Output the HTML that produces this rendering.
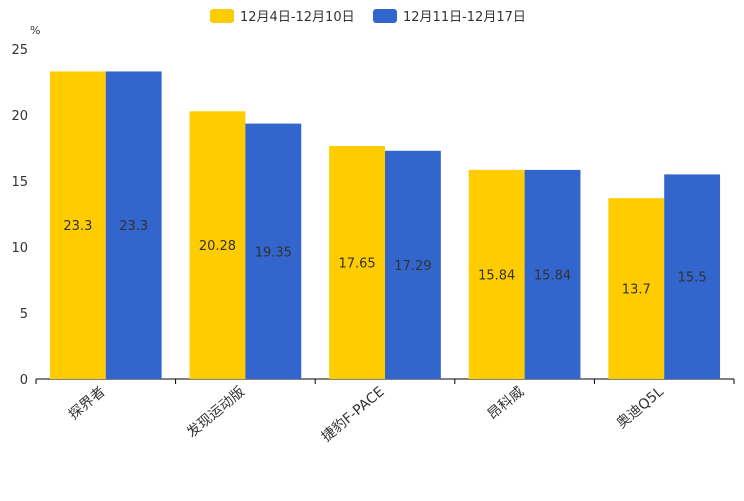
<!DOCTYPE html>
<html><head><meta charset="utf-8"><style>
body{margin:0;background:#fff;}
svg text{font-family:"DejaVu Sans","Liberation Sans","Noto Sans CJK SC",sans-serif;}
</style></head><body>
<svg id="chart" width="744" height="496">
<g id="legend">
<rect x="210" y="9" width="24" height="14" rx="3" fill="#ffcc00"/>
<text x="240" y="21" font-size="13" fill="#333">12月4日-12月10日</text>
<rect x="373" y="9" width="24" height="14" rx="3" fill="#3366cc"/>
<text x="403" y="21" font-size="13" fill="#333">12月11日-12月17日</text>
</g>
<text x="30" y="34" font-size="11" fill="#333">%</text>
<g id="axes"></g><g id="bars"></g>
</svg>
<script>
const categories=["探界者","发现运动版","捷豹F-PACE","昂科威","奥迪Q5L"];
const series1=[23.3,20.28,17.65,15.84,13.7];
const series2=[23.3,19.35,17.29,15.84,15.5];
const yTicks=[0,5,10,15,20,25];
const NS="http://www.w3.org/2000/svg";
const x0=36,x1=734,yBase=379,yTop=49,yMax=25;
const y=v=>yBase-(v/yMax)*(yBase-yTop);
const band=(x1-x0)/categories.length;
function mk(t,a,p){const e=document.createElementNS(NS,t);for(const k in a)e.setAttribute(k,a[k]);p.appendChild(e);return e;}
const axes=document.getElementById('axes'),bars=document.getElementById('bars');
yTicks.forEach(t=>{const e=mk('text',{x:28,y:y(t)+5,'text-anchor':'end','font-size':13,fill:'#333'},axes);e.textContent=t;

});
const ax=mk('line',{x1:x0,x2:x1,y1:yBase,y2:yBase,stroke:'#000','stroke-width':1},axes);


for(let i=0;i<=categories.length;i++){const tk=mk('line',{x1:x0+i*band,x2:x0+i*band,y1:yBase,y2:yBase+5,stroke:'#000'},axes);

}
const bw=band*0.4;
categories.forEach((c,i)=>{
 const cx=x0+band*(i+0.5);
 [[series1,'#ffcc00',cx-bw],[series2,'#3366cc',cx]].forEach(([s,col,bx],j)=>{
  const r=mk('rect',{x:bx,y:y(s[i]),width:bw,height:yBase-y(s[i]),fill:col},bars);
  
  
  const l=mk('text',{x:bx+bw/2,y:(y(s[i])+yBase)/2+5,'text-anchor':'middle','font-size':13,fill:'#333'},bars);
  l.textContent=s[i];
  
  
 });
 const t=mk('text',{x:cx,y:yBase+14,'text-anchor':'end','font-size':14,fill:'#333',transform:`rotate(-40 ${cx} ${yBase+14})`},axes);
 t.textContent=c;
 
 
});
</script>
</body></html>
